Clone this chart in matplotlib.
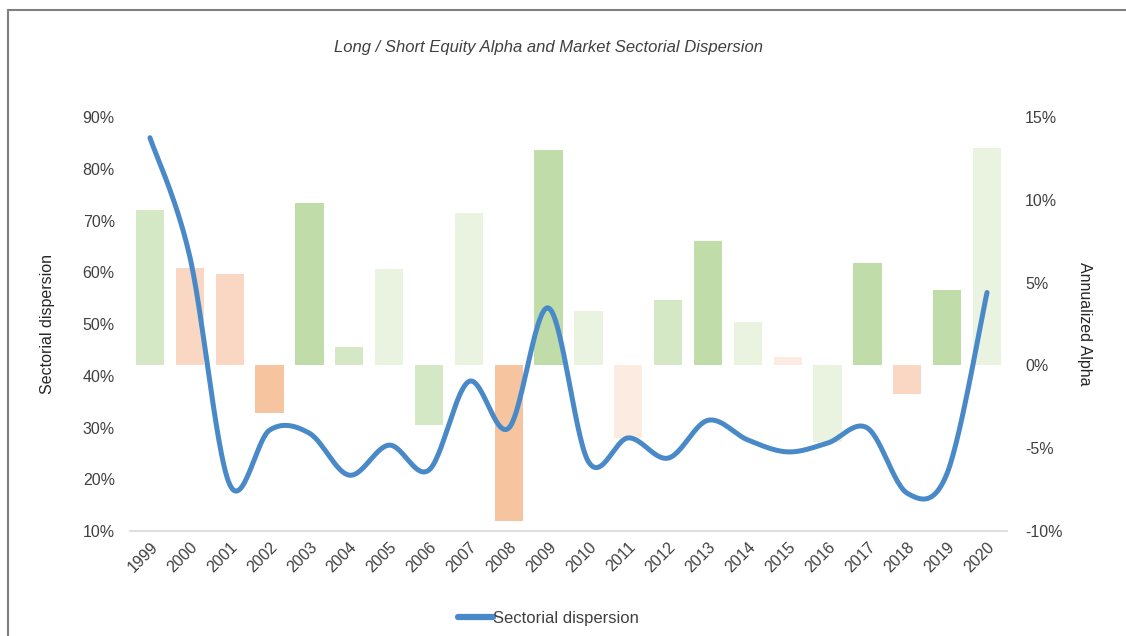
import numpy as np
import matplotlib.pyplot as plt
from matplotlib.patches import Rectangle
from matplotlib.ticker import FuncFormatter

plt.rcParams['font.family'] = ['Liberation Sans', 'DejaVu Sans']

# Data
years = [str(y) for y in range(1999, 2021)]
dispersion = [86.0, 63.0, 19.0, 29.5, 28.9, 20.8, 26.6, 21.8, 38.9, 29.9, 53.1,
              23.4, 28.0, 24.1, 31.4, 27.6, 25.3, 27.0, 29.9, 17.3, 21.2, 56.1]
alpha = [9.4, 5.9, 5.5, -2.85, 9.8, 1.1, 5.8, -3.6, 9.2, -9.4, 13.0,
         3.3, -4.4, 3.95, 7.5, 2.6, 0.5, -4.6, 6.2, -1.7, 4.55, 13.15]
# bar colour as drawn in the source chart
bar_colors = ['#d5e8c6', '#f9d7c2', '#f9d7c2', '#f6c49f', '#c0dda9', '#d5e8c6',
              '#e9f3e0', '#d5e8c6', '#e9f3e0', '#f6c49f', '#c0dda9', '#e9f3e0',
              '#fcebe0', '#d5e8c6', '#c0dda9', '#e9f3e0', '#fcebe0', '#e9f3e0',
              '#c0dda9', '#f9d7c2', '#c0dda9', '#e9f3e0']


def smooth(x, y, n=30):
    # Catmull-Rom spline through the points, similar to Excel's smoothed line
    x = np.asarray(x, float)
    y = np.asarray(y, float)
    px = np.concatenate([[x[0]], x, [x[-1]]])
    py = np.concatenate([[y[0]], y, [y[-1]]])
    xs, ys = [], []
    t = np.linspace(0, 1, n)
    for i in range(1, len(px) - 2):
        p0, p1, p2, p3 = (np.array([px[j], py[j]]) for j in range(i - 1, i + 3))
        c1 = p1 + (p2 - p0) / 6
        c2 = p2 - (p3 - p1) / 6
        pts = ((1 - t)[:, None] ** 3 * p1 + 3 * ((1 - t) ** 2 * t)[:, None] * c1
               + 3 * ((1 - t) * t ** 2)[:, None] * c2 + (t ** 3)[:, None] * p2)
        xs.extend(pts[:, 0])
        ys.extend(pts[:, 1])
    return np.array(xs), np.array(ys)


fig = plt.figure(figsize=(11.26, 6.36), dpi=100)
ax = fig.add_axes([0.1155, 0.165, 0.7788, 0.651])
ax2 = ax.twinx()

x = np.arange(len(years))
ax2.bar(x, alpha, width=0.71, color=bar_colors, zorder=1)
ax2.set_ylim(-10, 15)
ax2.set_yticks(np.arange(-10, 16, 5))
ax2.yaxis.set_major_formatter(FuncFormatter(lambda v, p: f'{v:.0f}%'))

# draw the line on top of bars
ax.set_zorder(ax2.get_zorder() + 1)
ax.patch.set_visible(False)
sx, sy = smooth(x, dispersion)
ax.plot(sx, sy, color='#4a89c8', lw=3.6, solid_capstyle='round',
        label='Sectorial dispersion')
ax.set_ylim(10, 90)
ax.set_yticks(np.arange(10, 91, 10))
ax.yaxis.set_major_formatter(FuncFormatter(lambda v, p: f'{v:.0f}%'))
ax.set_xlim(-0.5, len(years) - 0.5)
ax.set_xticks(x)
ax.set_xticklabels(years, rotation=45, ha='right', rotation_mode='anchor')

for a in (ax, ax2):
    for s in a.spines.values():
        s.set_visible(False)
    a.tick_params(length=0, labelsize=11.5, labelcolor='#404040')
ax.spines['bottom'].set_visible(True)
ax.spines['bottom'].set_color('#d9d9d9')
ax.spines['bottom'].set_linewidth(1.2)
ax.tick_params(axis='y', pad=11)
ax.tick_params(axis='x', pad=6)
ax2.tick_params(axis='y', pad=13)

ax.set_ylabel('Sectorial dispersion', fontsize=11.5, color='#262626', labelpad=20)
ax2.set_ylabel('Annualized Alpha', fontsize=11.5, color='#262626',
               rotation=-90, labelpad=21)

fig.text(0.487, 0.925, 'Long / Short Equity Alpha and Market Sectorial Dispersion',
         ha='center', va='center', fontsize=12, style='italic', color='#404040')

fig.legend(loc='center', bbox_to_anchor=(0.487, 0.027), frameon=False,
           fontsize=12, handlelength=2.1, handletextpad=0.05,
           labelcolor='#404040')
for h in fig.legends[0].get_lines():
    h.set_linewidth(4.5)

# outer frame
fig.patches.append(Rectangle((8 / 1126, -0.1), 1.2, 1 - 10 / 636 + 0.1,
                             transform=fig.transFigure, fill=False,
                             edgecolor='#7f7f7f', lw=1.5))

fig.savefig('out.png', dpi=100)
